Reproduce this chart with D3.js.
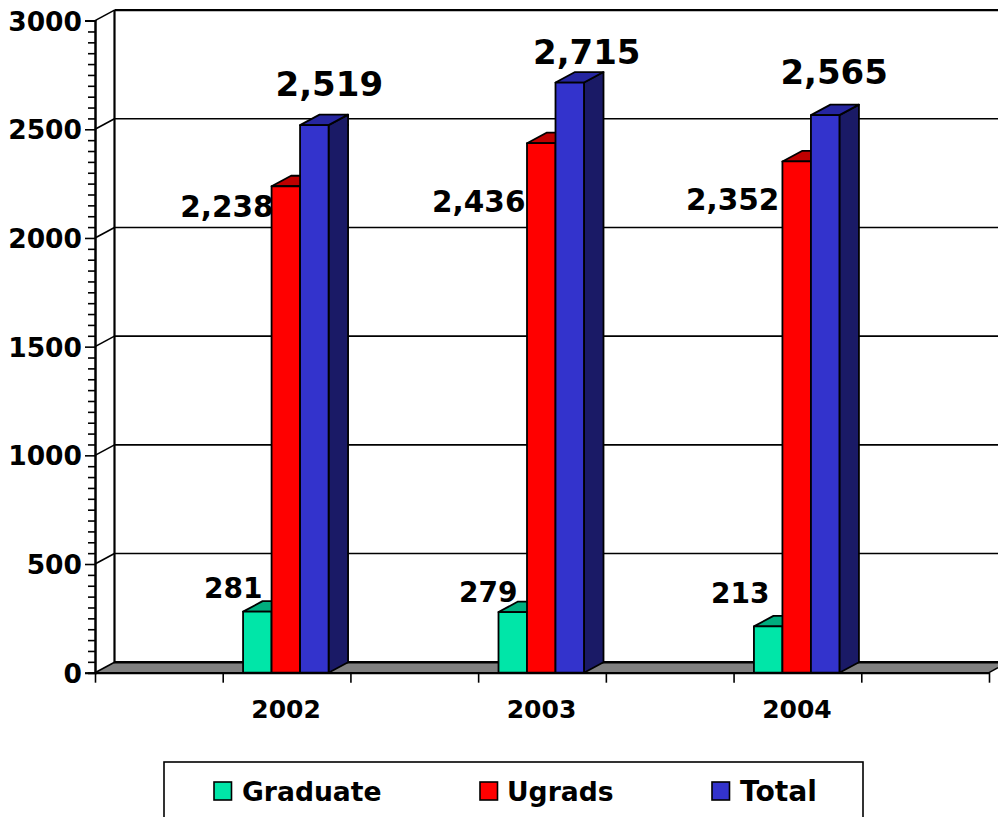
<!DOCTYPE html>
<html><head><meta charset="utf-8">
<script src="https://cdn.jsdelivr.net/npm/d3@7"></script>
<style>html,body{margin:0;padding:0;background:#fff;overflow:hidden}svg{display:block}
text{font-family:"DejaVu Sans",Verdana,sans-serif;font-weight:bold;fill:#000}</style>
</head><body><svg id="c" width="998" height="817"></svg>
<script>
const categories = ["2002","2003","2004"];
const seriesNames = ["Graduate","Ugrads","Total"];
const graduate = [281,279,213];
const ugrads = [2238,2436,2352];
const total = [2519,2715,2565];
const yMajor = [0,500,1000,1500,2000,2500,3000];
const seriesValues = [graduate,ugrads,total];

const colors = {Graduate:["#00E6A8","#00AD7E","#00AD7E"],Ugrads:["#FF0000","#BF0000","#800000"],Total:["#3333CC","#2626A0","#1A1A66"]};
// label placement relative to the bar top: [dx to text centre, dy to baseline, font size]
const labelOffsets = {
 Graduate:[[-24,-14,28],[-24.5,-10,28],[-28,-23,28]],
 Ugrads:[[-59,31,29.5],[-62.5,69,29.5],[-64,49,29.5]],
 Total:[[15,-29,34],[17,-19,34],[9,-31,34]]
};
const dx=19.5, dy=-10.5;
const svg=d3.select("#c");
const y=d3.scaleLinear().domain([0,3000]).range([672.7,20.6]);
const slots=d3.range(7);
const x=d3.scaleBand().domain(slots).range([95,989]);
const slotOf=i=>2*i+1;
const inner=d3.scaleBand().domain(seriesNames).range([-43.5,42]);
const S="#000";

// floor
svg.append("polygon").attr("points",[[x.range()[0],y(0)],[x.range()[0]+dx,y(0)+dy],[998,y(0)+dy],[998,y(0)-5],[x.range()[1],y(0)]].join(" "))
  .attr("fill","#808080");
svg.append("line").attr("x1",114).attr("x2",998).attr("y1",y(0)+dy).attr("y2",y(0)+dy).attr("stroke",S).attr("stroke-width",2.6);
svg.append("line").attr("x1",x.range()[1]).attr("x2",998).attr("y1",y(0)).attr("y2",y(0)-5).attr("stroke",S).attr("stroke-width",1.5);

// back wall
yMajor.forEach(v=>{
  svg.append("line").attr("x1",95).attr("y1",y(v)).attr("x2",95+dx).attr("y2",y(v)+dy).attr("stroke",S).attr("stroke-width",1.6);
  if(v>0) svg.append("line").attr("x1",95+dx).attr("x2",998).attr("y1",y(v)+dy).attr("y2",y(v)+dy).attr("stroke",S).attr("stroke-width",v===3000?2.2:1.6);
});
svg.append("line").attr("x1",95+dx).attr("x2",95+dx).attr("y1",y(3000)+dy).attr("y2",y(0)+dy).attr("stroke",S).attr("stroke-width",2.2);

// y axis
const minor=d3.range(0,3001,50).filter(v=>v%500);
const axM=svg.append("g").attr("transform","translate(95,0)").call(d3.axisLeft(y).tickValues(minor).tickSize(7).tickFormat(""));
const axY=svg.append("g").attr("transform","translate(95,0)").call(d3.axisLeft(y).tickValues(yMajor).tickSize(10).tickPadding(3).tickFormat(d3.format("d")));
[axM,axY].forEach(a=>{a.select(".domain").attr("stroke",S).attr("stroke-width",2);a.selectAll(".tick line").attr("stroke",S).attr("stroke-width",1.6);});
axY.selectAll("text").attr("font-size",26.5).attr("y",1).attr("font-family",'"DejaVu Sans"').attr("font-weight","bold").attr("fill","#000");

// x axis
const xe=d3.scaleLinear().domain([0,7]).range(x.range());
const axX=svg.append("g").attr("transform",`translate(0,${y(0)})`).call(d3.axisBottom(xe).tickValues(d3.range(8)).tickSize(10).tickSizeOuter(0).tickFormat(""));
axX.select(".domain").attr("stroke",S).attr("stroke-width",2.2);
axX.selectAll(".tick line").attr("stroke",S).attr("stroke-width",1.6);
categories.forEach((c,i)=>{
  svg.append("text").attr("x",x(slotOf(i))+x.bandwidth()/2-0.5).attr("y",718).attr("text-anchor","middle").attr("font-size",25).text(c);
});

// bars
const line={stroke:S,"stroke-width":1.8,"stroke-linejoin":"round"};
function poly(pts,fill){const p=svg.append("polygon").attr("points",pts.join(" ")).attr("fill",fill);Object.entries(line).forEach(([k,v])=>p.attr(k,v));}
categories.forEach((c,i)=>{
  const cx=x(slotOf(i))+x.bandwidth()/2;
  seriesNames.forEach((s,j)=>{
    const v=seriesValues[j][i],x0=cx+inner(s),x1=x0+inner.bandwidth(),t=y(v),b=y(0),[f,top,side]=colors[s];
    poly([[x1,b],[x1+dx,b+dy],[x1+dx,t+dy],[x1,t]],side);
    poly([[x0,t],[x0+dx,t+dy],[x1+dx,t+dy],[x1,t]],top);
    poly([[x0,t],[x1,t],[x1,b],[x0,b]],f);
  });
});
categories.forEach((c,i)=>{
  const cx=x(slotOf(i))+x.bandwidth()/2;
  seriesNames.forEach((s,j)=>{
    const v=seriesValues[j][i],[ox,oy,fs]=labelOffsets[s][i],x0=cx+inner(s)+inner.bandwidth()/2;
    svg.append("text").attr("x",x0+ox).attr("y",y(v)+oy).attr("text-anchor","middle").attr("font-size",fs).text(d3.format(",")(v));
  });
});

// legend
svg.append("rect").attr("x",164).attr("y",762).attr("width",699).attr("height",70).attr("fill","#fff").attr("stroke",S).attr("stroke-width",1.6);
const legendX=[[214,242,26.6],[480,507,26.6],[712,740,28.2]];
seriesNames.forEach((s,j)=>{
  svg.append("rect").attr("x",legendX[j][0]).attr("y",782).attr("width",17.5).attr("height",18).attr("fill",colors[s][0]).attr("stroke",S).attr("stroke-width",1.6);
  svg.append("text").attr("x",legendX[j][1]).attr("y",801).attr("font-size",legendX[j][2]).text(s);
});
</script></body></html>
